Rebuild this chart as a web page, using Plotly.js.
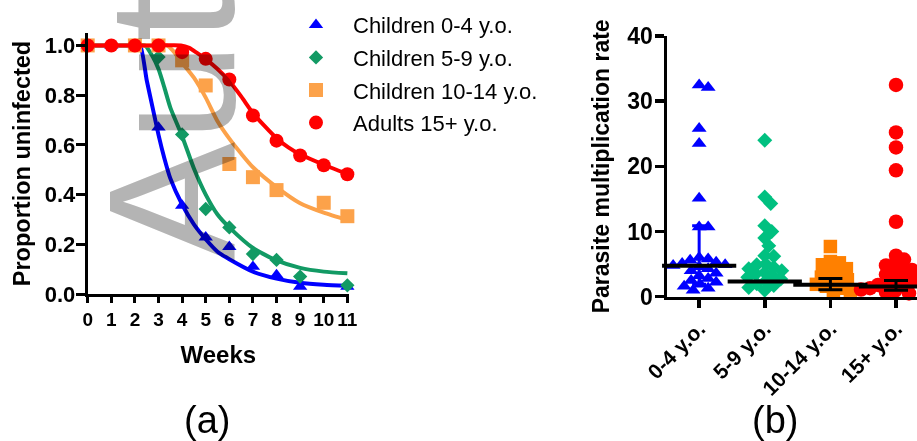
<!DOCTYPE html>
<html>
<head>
<meta charset="utf-8">
<script src="https://cdn.plot.ly/plotly-3.0.1.min.js"></script>
<style>
  html, body { margin: 0; padding: 0; background: #fff; }
  #chart { width: 917px; height: 441px; }
  .main-svg { mix-blend-mode: multiply; }
</style>
</head>
<body>
<div id="chart"></div>
<script>
// ---------- Panel (a): proportion uninfected by week ----------
const weeks = [0, 1, 2, 3, 4, 5, 6, 7, 8, 9, 10, 11];
const weekTickLabels = ['0','1','2','3','4','5','6','7','8','9','10','11'];
const seriesNames = ['Children 0-4 y.o.', 'Children 5-9 y.o.', 'Children 10-14 y.o.', 'Adults 15+ y.o.'];

const prop04   = [1, 1, 1, 0.67, 0.356, 0.228, 0.19, 0.11, 0.076, 0.03, null, 0.03];
const prop59   = [null, null, null, 0.953, 0.642, 0.342, 0.268, 0.161, 0.137, 0.07, null, 0.035];
const prop1014 = [1, null, 1, 1, 0.94, 0.839, 0.523, 0.47, 0.418, null, 0.367, 0.313];
const prop15   = [1, 1, 1, 1, 0.973, 0.946, 0.863, 0.718, 0.617, 0.557, 0.518, 0.482];

// fitted curves
const fitWeeks04 = [0, 1, 2, 2.22, 2.5, 2.75, 3, 3.25, 3.5, 4, 4.5, 5, 5.5, 6, 7, 8, 9, 10, 11];
const fit04      = [1, 1, 1, 1, 0.86, 0.75, 0.64, 0.545, 0.465, 0.36, 0.28, 0.22, 0.17, 0.14, 0.09, 0.062, 0.045, 0.037, 0.033];
const fitWeeks59 = [0, 1, 2, 2.43, 2.75, 3, 3.25, 3.5, 4, 4.5, 5, 5.5, 6, 7, 8, 9, 10, 11];
const fit59      = [1, 1, 1, 1, 0.955, 0.905, 0.83, 0.75, 0.635, 0.505, 0.4, 0.32, 0.268, 0.185, 0.135, 0.105, 0.09, 0.083];
const fitWeeks1014 = [0, 1, 2, 3, 3.35, 3.6, 4, 4.5, 5, 5.5, 6, 6.5, 7, 8, 9, 10, 11];
const fit1014      = [1, 1, 1, 1, 1, 0.98, 0.93, 0.87, 0.79, 0.695, 0.625, 0.565, 0.51, 0.43, 0.365, 0.327, 0.297];
const fitWeeks15 = [0, 1, 2, 3, 3.95, 4.3, 4.6, 5, 5.5, 6, 6.5, 7, 7.5, 8, 8.5, 9, 10, 11];
const fit15      = [1, 1, 1, 1, 1, 0.99, 0.972, 0.945, 0.905, 0.857, 0.795, 0.728, 0.675, 0.627, 0.59, 0.562, 0.52, 0.483];

// ---------- Panel (b): parasite multiplication rate ----------
const groups = ['0-4 y.o.', '5-9 y.o.', '10-14 y.o.', '15+ y.o.'];
const mr04   = [32.5, 32.1, 25.8, 23.5, 15.1, 10.7, 10.7, 6.0, 5.8, 5.6, 5.3, 5.1, 4.9, 4.8, 4.6, 4.3, 4.0, 3.6, 3.2, 2.8, 2.5, 2.2, 1.9, 1.6, 1.3, 1.0];
const mr59   = [24.0, 15.3, 14.3, 10.9, 10.0, 9.0, 7.8, 6.3, 6.2, 5.0, 4.9, 4.5, 4.3, 4.0, 3.7, 3.5, 3.2, 3.0, 2.7, 2.4, 2.0, 1.7, 1.4, 1.0];
const mr1014 = [7.7, 5.4, 5.2, 4.9, 4.3, 3.4, 3.3, 3.0, 2.6, 2.2, 1.9, 1.6, 1.3, 1.0, 0.8];
const mr15   = [32.5, 25.2, 22.9, 19.4, 11.5, 6.3, 5.7, 5.0, 4.8, 4.3, 4.1, 3.6, 3.4, 3.0, 2.6, 2.2, 2.0, 1.8, 1.6, 1.5, 1.3, 1.2, 1.1, 0.9, 0.8, 0.7, 0.5];
const medians = [4.75, 2.35, 1.85, 1.55];
const q1      = [1.9, 1.4, 1.05, 1.0];
const q3      = [10.9, 4.9, 2.8, 2.5];

// ---------- styling ----------
const FONT = 'Liberation Sans, Arial, Helvetica, sans-serif';
const colA = ['#0000ff', '#129a64', '#fca24a', '#ff0000'];
const colB = ['#0000ff', '#00c080', '#ff8000', '#ff0000'];
const symbols = ['triangle-up', 'diamond', 'square', 'circle'];
const sizesA = [12.5, 11, 14, 14];
const sizesB = [13, 11.5, 13.5, 14.5];
const errColor = ['#0000ff', '#00c080', '#000000', '#000000'];
const errHalf = [7, 7, 12, 12];

const W = 917, H = 441;
const xDomA = [87.7 / W, 349 / W], yDomA = [1 - 294 / H, 1 - 33 / H];
const xDomB = [667 / W, 1], yDomB = [1 - 296.7 / H, 1 - 36 / H];
const xRangeB = [-0.49, 3.32], yRangeB = [0, 40];

// beeswarm offsets computed from the axis scale
const pxX = (xDomB[1] - xDomB[0]) * W / (xRangeB[1] - xRangeB[0]);
const pxY = (yDomB[1] - yDomB[0]) * H / (yRangeB[1] - yRangeB[0]);
function swarm(vals, center, d) {
  const order = vals.map((v, i) => i).sort((a, b) => vals[b] - vals[a]);
  const placed = [];
  const out = new Array(vals.length);
  for (const i of order) {
    const yp = vals[i] * pxY;
    let off = 0;
    for (let k = 0; k < 400; k++) {
      const cand = (k % 2 === 0 ? -1 : 1) * Math.ceil(k / 2);
      let ok = true;
      for (const p of placed) {
        const dx = cand - p[0], dy = yp - p[1];
        if (dx * dx + dy * dy < d * d) { ok = false; break; }
      }
      if (ok) { off = cand; break; }
    }
    placed.push([off, yp]);
    out[i] = center + off / pxX;
  }
  return out;
}

const propSeries = [prop04, prop59, prop1014, prop15];
const fitX = [fitWeeks04, fitWeeks59, fitWeeks1014, fitWeeks15];
const fitY = [fit04, fit59, fit1014, fit15];
const mrSeries = [mr04, mr59, mr1014, mr15];

const traces = [];
for (let s = 0; s < 4; s++) {
  traces.push({
    x: fitX[s], y: fitY[s], xaxis: 'x', yaxis: 'y', mode: 'lines',
    line: { color: colA[s], width: 4, shape: 'spline', smoothing: 0.6 },
    showlegend: false, hoverinfo: 'skip'
  });
  traces.push({
    x: weeks, y: propSeries[s], xaxis: 'x', yaxis: 'y', mode: 'markers',
    name: seriesNames[s], legendgroup: 'g' + s,
    marker: { symbol: symbols[s], size: sizesA[s], color: colA[s] },
    cliponaxis: false
  });
}
for (let s = 0; s < 4; s++) {
  traces.push({
    x: swarm(mrSeries[s], s, 8.5), y: mrSeries[s], xaxis: 'x2', yaxis: 'y2', mode: 'markers',
    marker: { symbol: symbols[s], size: sizesB[s], color: colB[s] },
    showlegend: false, cliponaxis: false
  });
}
for (let s = 0; s < 4; s++) {
  traces.push({
    x: [s], y: [medians[s]], xaxis: 'x2', yaxis: 'y2', mode: 'markers',
    marker: { symbol: 'line-ew', size: 53, line: { width: 4, color: '#000' } },
    error_y: { type: 'data', symmetric: false, array: [q3[s] - medians[s]], arrayminus: [medians[s] - q1[s]],
               color: errColor[s], thickness: 3, width: errHalf[s] },
    showlegend: false, cliponaxis: false
  });
}

const tickFont = (size) => ({ family: FONT, size: size, color: '#000', weight: 'bold' });
const titleFont = { family: FONT, size: 23, color: '#000', weight: 'bold' };

const layout = {
  width: W, height: H,
  margin: { l: 0, r: 0, t: 0, b: 0 },
  paper_bgcolor: '#ffffff', plot_bgcolor: 'rgba(0,0,0,0)',
  font: { family: FONT, color: '#000' },
  showlegend: true,
  legend: {
    x: 279 / W, y: 1 - 4 / H, xanchor: 'left', yanchor: 'top',
    font: { family: FONT, size: 22, color: '#000' },
    bgcolor: 'rgba(0,0,0,0)', tracegroupgap: 1, itemwidth: 64
  },
  xaxis: {
    domain: xDomA, range: [0, 11.07], anchor: 'y',
    tickvals: weeks, ticktext: weekTickLabels,
    showline: true, linewidth: 3, linecolor: '#000', mirror: false,
    ticks: 'outside', ticklen: 6, tickwidth: 3, tickcolor: '#000',
    showgrid: false, zeroline: false, tickfont: tickFont(19),
    title: { text: 'Weeks', font: { family: FONT, size: 24, color: '#000', weight: 'bold' }, standoff: 18 }
  },
  yaxis: {
    domain: yDomA, range: [0, 1.05], anchor: 'x',
    tickvals: [0, 0.2, 0.4, 0.6, 0.8, 1.0], tickformat: '.1f',
    showline: true, linewidth: 3, linecolor: '#000',
    ticks: 'outside', ticklen: 9, tickwidth: 3, tickcolor: '#000',
    showgrid: false, zeroline: false, tickfont: tickFont(22), ticklabelstandoff: -4,
    title: { text: 'Proportion uninfected', font: { family: FONT, size: 23.5, color: '#000', weight: 'bold' }, standoff: 8 }
  },
  xaxis2: {
    domain: xDomB, range: xRangeB, anchor: 'y2',
    tickvals: [0, 1, 2, 3], ticktext: groups, tickangle: -45,
    showline: true, linewidth: 3.5, linecolor: '#000',
    ticks: 'outside', ticklen: 8, tickwidth: 3.5, tickcolor: '#000',
    showgrid: false, zeroline: false, tickfont: tickFont(21)
  },
  yaxis2: {
    domain: yDomB, range: yRangeB, anchor: 'x2',
    tickvals: [0, 10, 20, 30, 40],
    showline: true, linewidth: 3.5, linecolor: '#000',
    ticks: 'outside', ticklen: 9, tickwidth: 3.5, tickcolor: '#000',
    showgrid: false, zeroline: false, tickfont: tickFont(23), ticklabelstandoff: -3,
    title: { text: 'Parasite multiplication rate', font: titleFont, standoff: 12 }
  },
  annotations: [
    { text: 'Aut', xref: 'paper', yref: 'paper', x: 171 / W, y: 1 - 127 / H,
      xanchor: 'center', yanchor: 'middle', textangle: -90, showarrow: false,
      font: { family: FONT, size: 180, color: '#b4b4b4' } },
    { text: '(a)', xref: 'paper', yref: 'paper', x: 207 / W, y: 1 - 420 / H,
      xanchor: 'center', yanchor: 'middle', showarrow: false,
      font: { family: FONT, size: 38, color: '#000' } },
    { text: '(b)', xref: 'paper', yref: 'paper', x: 775 / W, y: 1 - 420 / H,
      xanchor: 'center', yanchor: 'middle', showarrow: false,
      font: { family: FONT, size: 38, color: '#000' } }
  ]
};

Plotly.newPlot('chart', traces, layout, { displayModeBar: false, staticPlot: true });
</script>
</body>
</html>
